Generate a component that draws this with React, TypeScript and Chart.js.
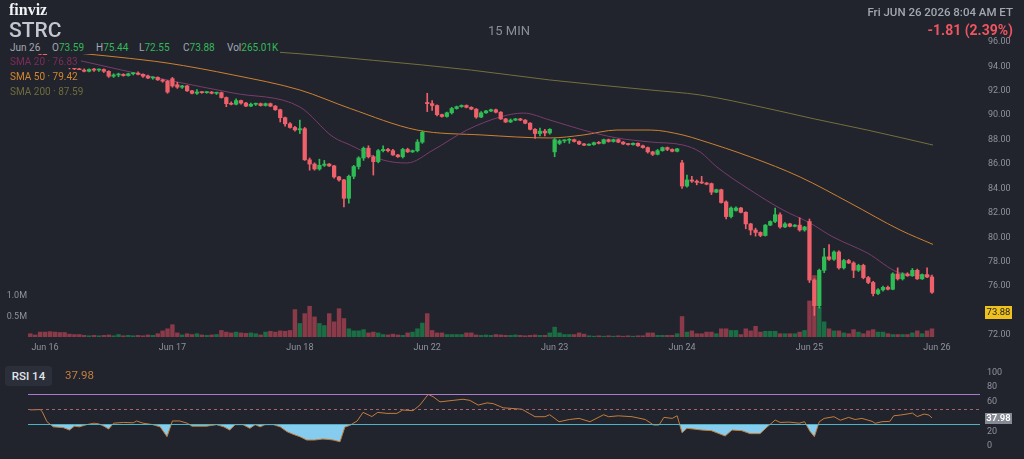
import React, { useEffect, useRef } from "react";
import { Chart, registerables } from "chart.js";

Chart.register(...registerables);

// ---------------- data ----------------
const dayTickIdx = [3, 29, 55, 81, 107, 133, 159, 185];
const dayTickLabels = ["Jun 16", "Jun 17", "Jun 18", "Jun 22", "Jun 23", "Jun 24", "Jun 25", "Jun 26"];
const priceTicks = [72, 76, 78, 80, 82, 84, 86, 88, 90, 92, 94, 96];
const volumeTicks = [0.5, 1.0];
const rsiTicks = [0, 20, 60, 80, 100];
const rsiLevels = [70, 50, 30];
const lastPrice = 73.88;
const lastRsi = 37.98;

const opens = [
  95.5, 95.4, 95.3, 95.0, 94.7, 94.6, 94.3, 94.2, 94.0, 93.9,
  93.8, 93.7, 93.6, 93.75, 93.7, 93.75, 93.6, 93.2, 93.3, 93.35,
  93.25, 93.4, 93.45, 93.35, 93.2, 93.05, 93.1, 92.9, 92.8, 93.0,
  92.5, 92.3, 92.4, 92.0, 91.8, 91.9, 91.85, 91.9, 91.8, 91.85,
  91.45, 90.95, 90.9, 91.2, 91.0, 90.75, 90.9, 90.95, 90.8, 90.95,
  90.75, 90.45, 89.8, 89.3, 89.0, 88.8, 88.9, 86.35, 86.0, 85.6,
  85.9, 86.0, 85.85, 84.95, 84.7, 83.2, 85.0, 85.8, 86.5, 87.3,
  86.6, 86.2, 87.1, 87.2, 87.1, 86.75, 86.6, 87.2, 87.0, 87.1,
  87.8, 91.05, 90.95, 90.8, 90.05, 89.9, 90.2, 90.55, 90.7, 90.8,
  90.65, 90.5, 89.85, 90.2, 90.35, 90.45, 90.25, 89.7, 89.45, 89.6,
  89.7, 89.6, 89.35, 88.85, 88.5, 88.7, 88.55, 87.0, 87.7, 87.9,
  87.95, 88.0, 87.85, 87.65, 87.55, 87.6, 87.75, 87.7, 88.0, 87.85,
  88.0, 87.8, 87.65, 87.6, 87.7, 87.5, 87.35, 87.0, 86.8, 87.1,
  87.35, 87.2, 87.05, 86.1, 84.2, 84.7, 84.6, 84.5, 84.45, 84.4,
  83.7, 83.9, 82.9, 81.7, 82.2, 82.4, 82.05, 81.1, 80.6, 80.4,
  80.15, 81.0, 81.3, 81.85, 80.85, 81.1, 80.9, 81.0, 80.6, 81.3,
  76.5, 74.4, 77.3, 78.4, 78.2, 78.8, 77.5, 78.1, 77.9, 77.3,
  77.7, 76.7, 76.3, 75.4, 75.7, 75.9, 75.75, 77.0, 76.6, 77.0,
  76.85, 77.3, 76.6, 76.95, 76.75,
];
const highs = [
  95.7, 95.6, 95.4, 95.6, 94.9, 94.7, 94.5, 94.4, 94.2, 94.0,
  93.9, 93.8, 93.8, 93.85, 93.8, 93.8, 93.65, 93.4, 93.45, 93.4,
  93.45, 93.5, 93.55, 93.4, 93.3, 93.15, 93.15, 92.95, 92.85, 93.1,
  92.7, 92.45, 92.45, 92.05, 92.1, 91.95, 91.95, 91.95, 91.9, 91.9,
  91.5, 91.1, 91.35, 91.25, 91.05, 91.0, 91.0, 91.0, 91.0, 91.0,
  90.8, 90.5, 89.85, 89.4, 89.1, 89.6, 89.0, 86.5, 86.1, 86.4,
  86.3, 86.05, 85.9, 85.0, 84.75, 85.1, 85.9, 86.6, 87.4, 87.5,
  86.7, 87.2, 87.5, 87.3, 87.2, 86.8, 87.3, 87.3, 87.15, 88.0,
  88.7, 91.8, 91.2, 90.85, 90.1, 90.25, 90.65, 90.75, 90.85, 90.85,
  90.7, 90.55, 90.3, 90.4, 90.5, 90.5, 90.3, 89.75, 89.7, 89.75,
  89.75, 89.65, 89.4, 88.9, 88.95, 88.85, 88.9, 88.1, 88.0, 88.0,
  88.1, 88.05, 87.9, 87.7, 87.65, 87.8, 87.85, 88.05, 88.05, 88.05,
  88.05, 87.85, 87.7, 87.75, 87.75, 87.55, 87.4, 87.05, 87.2, 87.4,
  87.4, 87.25, 87.3, 86.3, 85.1, 85.0, 84.7, 85.0, 84.5, 84.45,
  83.95, 83.95, 83.0, 82.5, 82.5, 82.45, 82.1, 81.15, 80.75, 80.45,
  81.05, 81.35, 82.4, 82.0, 81.2, 81.15, 81.05, 81.6, 80.9, 81.5,
  76.6, 77.4, 79.1, 79.4, 78.9, 78.9, 78.2, 78.2, 78.0, 77.8,
  77.8, 76.8, 76.4, 75.8, 76.0, 76.0, 77.1, 77.5, 77.1, 77.1,
  77.45, 77.4, 77.0, 77.5, 76.9,
];
const lows = [
  95.3, 95.2, 94.9, 94.5, 94.4, 94.2, 94.1, 93.9, 93.8, 93.7,
  93.6, 93.55, 93.55, 93.6, 93.6, 93.5, 93.1, 93.1, 93.15, 93.2,
  93.2, 93.3, 93.3, 93.1, 93.0, 92.95, 92.85, 92.7, 91.8, 92.3,
  92.2, 92.2, 91.95, 91.75, 91.7, 91.8, 91.8, 91.75, 91.7, 91.4,
  90.7, 90.85, 90.85, 90.9, 90.7, 90.7, 90.8, 90.75, 90.75, 90.7,
  90.4, 89.45, 89.1, 88.95, 88.7, 88.5, 86.3, 85.5, 85.5, 85.5,
  85.8, 85.8, 84.85, 84.6, 82.5, 82.8, 84.8, 85.6, 86.3, 86.5,
  85.1, 86.1, 87.0, 87.0, 86.7, 86.55, 86.5, 86.95, 86.95, 87.0,
  87.7, 90.3, 90.4, 89.95, 89.85, 89.85, 90.1, 90.5, 90.65, 90.6,
  90.45, 89.75, 89.8, 90.15, 90.3, 90.2, 89.65, 89.4, 89.4, 89.55,
  89.55, 89.3, 88.8, 88.1, 88.3, 88.3, 88.45, 86.6, 87.6, 87.75,
  87.7, 87.8, 87.6, 87.5, 87.5, 87.55, 87.65, 87.65, 87.8, 87.8,
  87.75, 87.6, 87.55, 87.55, 87.45, 87.3, 86.9, 86.7, 86.75, 87.05,
  87.1, 87.0, 87.0, 84.0, 84.1, 84.5, 84.3, 84.4, 84.3, 83.5,
  83.65, 82.8, 81.5, 81.6, 82.15, 82.0, 80.7, 80.2, 80.1, 80.05,
  80.1, 80.95, 81.2, 80.75, 80.8, 80.85, 80.85, 80.5, 80.5, 76.3,
  73.6, 74.2, 77.1, 78.1, 78.1, 77.4, 77.4, 77.85, 76.7, 77.2,
  76.6, 76.2, 75.2, 75.3, 75.6, 75.7, 75.7, 76.5, 76.5, 76.8,
  76.8, 76.55, 76.55, 76.7, 75.4,
];
const closes = [
  95.4, 95.3, 95.0, 94.7, 94.6, 94.3, 94.2, 94.0, 93.9, 93.8,
  93.7, 93.6, 93.75, 93.7, 93.75, 93.6, 93.2, 93.3, 93.35, 93.25,
  93.4, 93.45, 93.35, 93.2, 93.05, 93.1, 92.9, 92.8, 91.9, 92.4,
  92.3, 92.4, 92.0, 91.8, 91.9, 91.85, 91.9, 91.8, 91.85, 91.45,
  90.95, 90.9, 91.2, 91.0, 90.75, 90.9, 90.95, 90.8, 90.95, 90.75,
  90.45, 89.8, 89.3, 89.0, 88.8, 88.9, 86.35, 86.0, 85.6, 85.9,
  86.0, 85.85, 84.95, 84.7, 83.2, 85.0, 85.8, 86.5, 87.3, 86.6,
  86.2, 87.1, 87.2, 87.1, 86.75, 86.6, 87.2, 87.0, 87.1, 87.8,
  88.6, 90.95, 90.8, 90.05, 89.9, 90.2, 90.55, 90.7, 90.8, 90.65,
  90.5, 89.85, 90.2, 90.35, 90.45, 90.25, 89.7, 89.45, 89.6, 89.7,
  89.6, 89.35, 88.85, 88.5, 88.7, 88.55, 88.85, 88.0, 87.9, 87.95,
  88.0, 87.85, 87.65, 87.55, 87.6, 87.75, 87.7, 88.0, 87.85, 88.0,
  87.8, 87.65, 87.6, 87.7, 87.5, 87.35, 87.0, 86.8, 87.1, 87.35,
  87.2, 87.05, 87.25, 84.2, 84.7, 84.6, 84.5, 84.45, 84.35, 83.7,
  83.9, 82.85, 81.7, 82.4, 82.4, 82.05, 81.1, 80.6, 80.4, 80.15,
  81.0, 81.3, 81.85, 80.85, 81.1, 80.9, 81.0, 80.6, 80.85, 76.5,
  74.4, 77.3, 78.4, 78.2, 78.8, 77.5, 78.1, 77.9, 77.3, 77.7,
  76.7, 76.3, 75.4, 75.7, 75.9, 75.75, 77.0, 76.6, 77.0, 76.85,
  77.3, 76.6, 76.95, 76.75, 75.5,
];
// volume in millions
const volumes = [
  0.08, 0.05, 0.12, 0.12, 0.13, 0.12, 0.11, 0.11, 0.07, 0.06,
  0.06, 0.04, 0.03, 0.04, 0.03, 0.04, 0.05, 0.03, 0.06, 0.03,
  0.04, 0.03, 0.04, 0.03, 0.05, 0.04, 0.08, 0.15, 0.2, 0.3,
  0.1, 0.05, 0.08, 0.06, 0.08, 0.05, 0.04, 0.05, 0.06, 0.16,
  0.12, 0.1, 0.12, 0.1, 0.09, 0.1, 0.08, 0.05, 0.12, 0.14,
  0.12, 0.15, 0.14, 0.16, 0.67, 0.33, 0.57, 0.75, 0.49, 0.33,
  0.28, 0.57, 0.37, 0.69, 0.45, 0.2, 0.15, 0.15, 0.18, 0.1,
  0.12, 0.1, 0.06, 0.05, 0.07, 0.05, 0.04, 0.1, 0.12, 0.2,
  0.34, 0.57, 0.16, 0.1, 0.1, 0.06, 0.06, 0.06, 0.06, 0.1,
  0.1, 0.05, 0.04, 0.05, 0.04, 0.06, 0.05, 0.04, 0.04, 0.05,
  0.04, 0.03, 0.04, 0.05, 0.04, 0.04, 0.1, 0.24, 0.1, 0.06,
  0.06, 0.06, 0.1, 0.07, 0.03, 0.02, 0.03, 0.02, 0.03, 0.02,
  0.03, 0.02, 0.03, 0.02, 0.03, 0.03, 0.1, 0.1, 0.04, 0.04,
  0.04, 0.04, 0.08, 0.5, 0.12, 0.15, 0.08, 0.08, 0.12, 0.12,
  0.08, 0.2, 0.2, 0.16, 0.16, 0.06, 0.2, 0.15, 0.26, 0.12,
  0.14, 0.14, 0.14, 0.08, 0.08, 0.08, 0.08, 0.12, 0.16, 0.88,
  1.5, 0.73, 0.37, 0.2, 0.15, 0.15, 0.1, 0.08, 0.18, 0.12,
  0.08, 0.15, 0.18, 0.12, 0.12, 0.08, 0.06, 0.06, 0.06, 0.06,
  0.1, 0.15, 0.08, 0.15, 0.2,
];

// moving averages, read at sampled bar positions
const sma20Idx = [9.5, 27.9, 41.4, 55, 61.8, 65.3, 72, 76.9, 82.2, 89.1, 95.9, 100.6, 106, 112.8, 119.7, 126.5, 133.2, 136.7, 140.1, 146.9, 153.6, 159.1, 163.8, 170.8, 177.5, 184.2];
const sma20Val = [94.53, 92.89, 91.82, 90.68, 88.22, 87.56, 86.33, 86.09, 87.15, 88.79, 89.86, 90.18, 89.61, 88.79, 88.14, 87.81, 87.56, 86.99, 85.76, 83.88, 82.24, 81.17, 80.03, 78.72, 77.08, 76.83];
const sma50Idx = [9.5, 17.7, 27.9, 41.4, 55, 65.3, 78.9, 92.4, 106, 112.8, 119.7, 126.5, 133.2, 136.7, 147, 157.1, 167.3, 177.5, 184.2];
const sma50Val = [95.1, 94.77, 94.28, 93.3, 92.07, 90.55, 88.79, 88.38, 88.14, 88.38, 88.79, 88.79, 88.38, 87.97, 86.58, 84.94, 82.81, 80.6, 79.42];
const sma200Idx = [0, 20, 40, 50, 70, 90, 106, 126.5, 136.7, 150, 160, 170.8, 184.2];
const sma200Val = [95.6, 95.5, 95.35, 95.18, 94.5, 93.7, 92.89, 92.07, 91.66, 90.6, 89.7, 88.79, 87.56];

// RSI(14), read at sampled bar positions
const rsiIdx = [0, 2, 2.4, 3.4, 4.7, 6.7, 8, 9, 10, 11.5, 13, 14, 15, 16, 17, 19, 21, 21.7, 23, 25, 26.5, 27.9, 29, 30.5, 32, 33, 36, 38, 39.5, 40.7, 41.8, 43.4, 44.8, 45.9, 46.9, 47.9, 49.6, 51, 52.4, 53.6, 55, 56.4, 58, 59.7, 60.8, 61.8, 63.2, 64.2, 65.2, 66.7, 67.9, 69.7, 70.9, 72.8, 74.8, 76, 78.1, 79.5, 81.2, 82.2, 83.6, 86.3, 88.3, 89.7, 91.4, 93.2, 94.5, 96.5, 98.3, 100.3, 101.8, 103, 105, 106, 107.9, 110, 112, 114.2, 117, 118, 120, 122.8, 125.5, 127.2, 128.3, 129.3, 131, 132, 133, 134, 135.4, 137, 139, 141.8, 143.2, 145.2, 146.9, 148.9, 150.4, 152, 153, 154.8, 156.9, 158, 159.1, 160, 161, 162, 164, 165.3, 167, 168.3, 169.7, 171.8, 172.4, 173.8, 175.4, 176.2, 177.5, 178.9, 180, 181, 182.4, 183.4, 184];
const rsiVal = [49, 49.5, 47, 33, 26, 25, 21.7, 27, 26, 29, 31, 30, 27, 23, 31, 32, 31.5, 34, 31, 29, 26, 12.7, 34, 34, 31, 27, 27, 29, 26, 21.7, 29, 29, 24, 29, 26, 29, 29, 26, 19.4, 16, 12.7, 8.1, 8.1, 9.5, 9, 8.1, 5.8, 25.8, 28, 34, 45.7, 40, 45.7, 44.3, 44.3, 48.9, 48, 55.6, 70.1, 67, 60, 62, 63.5, 62, 55.6, 58.6, 57.5, 51.9, 51, 50, 44.3, 39.8, 39.8, 42.5, 33, 36, 37.5, 33, 42.5, 39.8, 41, 39.8, 36, 28.5, 28.5, 38.9, 37.5, 41.1, 18, 24, 23, 21.7, 20.8, 13.6, 21.7, 20.8, 16.8, 16.8, 26, 35.3, 32, 32.5, 31, 33, 20, 12.7, 33, 37.5, 39.8, 35, 38.9, 36, 37.5, 33.5, 30.8, 33, 33.5, 41.1, 42, 43.4, 44.7, 40, 43.4, 42, 37.98];

// ---------------- style ----------------
const BG = "#21242d";
const UP = "#2ebd55";
const DOWN = "#f0606a";
const VOL_UP = "#1b6e44";
const VOL_DOWN = "#8a3a48";
const AXIS_TXT = "#8e929c";
const FONT = 'Roboto, "Noto Sans", sans-serif';

const X_MIN = -0.47;
const X_MAX = 193.8;
const PRICE_MIN = 71.836;
const PRICE_MAX = 96.983;
const VOL_MAX = 7.49;

function App() {
  const priceRef = useRef<HTMLCanvasElement>(null);
  const rsiRef = useRef<HTMLCanvasElement>(null);

  useEffect(() => {
    const idx = closes.map((_, i) => i);
    const isUp = idx.map((i) => closes[i] >= opens[i]);
    const candleColors = isUp.map((u) => (u ? UP : DOWN));
    const volColors = isUp.map((u) => (u ? VOL_UP : VOL_DOWN));

    const lastPricePlugin = {
      id: "lastPrice",
      afterDraw(chart: any) {
        const { ctx, chartArea, scales } = chart;
        const y = scales.y.getPixelForValue(lastPrice);
        ctx.save();
        ctx.fillStyle = "#efc11c";
        ctx.fillRect(chartArea.right + 5, Math.round(y) - 6, 27, 13);
        ctx.fillStyle = "#1d2028";
        ctx.font = `9.5px ${FONT}`;
        ctx.textAlign = "center";
        ctx.textBaseline = "middle";
        ctx.fillText(lastPrice.toFixed(2), chartArea.right + 18.5, Math.round(y) + 0.5);
        ctx.restore();
      },
    };

    const axisFont = { family: FONT, size: 9 };

    const priceChart = new Chart(priceRef.current as HTMLCanvasElement, {
      type: "bar",
      data: {
        datasets: [
          {
            type: "bar",
            label: "body",
            data: idx.map((i) => ({ x: i, y: [opens[i], closes[i]] })) as any,
            backgroundColor: candleColors,
            barThickness: 3.6,
            grouped: false,
            minBarLength: 1,
            yAxisID: "y",
            order: 1,
          } as any,
          {
            type: "bar",
            label: "wick",
            data: idx.map((i) => ({ x: i, y: [lows[i], highs[i]] })) as any,
            backgroundColor: candleColors,
            barThickness: 1,
            grouped: false,
            yAxisID: "y",
            order: 2,
          } as any,
          {
            type: "line",
            label: "SMA 20",
            data: sma20Idx.map((x, k) => ({ x, y: sma20Val[k] })),
            borderColor: "#7a3c6c",
            borderWidth: 1,
            pointRadius: 0,
            cubicInterpolationMode: "monotone",
            yAxisID: "y",
            order: 3,
          } as any,
          {
            type: "line",
            label: "SMA 50",
            data: sma50Idx.map((x, k) => ({ x, y: sma50Val[k] })),
            borderColor: "#cf8030",
            borderWidth: 1,
            pointRadius: 0,
            cubicInterpolationMode: "monotone",
            yAxisID: "y",
            order: 3,
          } as any,
          {
            type: "line",
            label: "SMA 200",
            data: sma200Idx.map((x, k) => ({ x, y: sma200Val[k] })),
            borderColor: "#756f3d",
            borderWidth: 1,
            pointRadius: 0,
            cubicInterpolationMode: "monotone",
            yAxisID: "y",
            order: 3,
          } as any,
          {
            type: "bar",
            label: "volume",
            data: idx.map((i) => ({ x: i, y: volumes[i] })),
            backgroundColor: volColors,
            barThickness: 3.8,
            grouped: false,
            yAxisID: "yVol",
            order: 10,
          } as any,
        ],
      },
      options: {
        animation: false,
        responsive: false,
        maintainAspectRatio: false,
        layout: { padding: { top: 30, left: 0, right: 0, bottom: 0 } },
        plugins: { legend: { display: false }, tooltip: { enabled: false } },
        scales: {
          x: {
            type: "linear",
            min: X_MIN,
            max: X_MAX,
            offset: false,
            grid: { display: false, drawTicks: false, offset: false },
            border: { display: false },
            afterBuildTicks: (s: any) => {
              s.ticks = dayTickIdx.map((v) => ({ value: v }));
            },
            afterFit: (s: any) => {
              s.height = 23;
            },
            ticks: {
              color: AXIS_TXT,
              font: axisFont,
              padding: 5,
              maxRotation: 0,
              autoSkip: false,
              callback: (v: any) => {
                const k = dayTickIdx.indexOf(Number(v));
                return k >= 0 ? dayTickLabels[k] : "";
              },
            },
          },
          y: {
            type: "linear",
            position: "right",
            min: PRICE_MIN,
            max: PRICE_MAX,
            grid: { display: false, drawTicks: false },
            border: { display: false },
            afterBuildTicks: (s: any) => {
              s.ticks = priceTicks.map((v) => ({ value: v }));
            },
            afterFit: (s: any) => {
              s.width = 44;
            },
            ticks: {
              color: AXIS_TXT,
              font: axisFont,
              padding: 8,
              callback: (v: any) => Number(v).toFixed(2),
            },
          },
          yVol: {
            type: "linear",
            position: "left",
            min: 0,
            max: VOL_MAX,
            grid: { display: false, drawTicks: false },
            border: { display: false },
            afterBuildTicks: (s: any) => {
              s.ticks = volumeTicks.map((v) => ({ value: v }));
            },
            afterFit: (s: any) => {
              s.width = 28;
            },
            ticks: {
              color: AXIS_TXT,
              font: axisFont,
              padding: 1,
              callback: (v: any) => Number(v).toFixed(1) + "M",
            },
          },
        },
      } as any,
      plugins: [lastPricePlugin],
    });

    const rsiLevelPlugin = {
      id: "rsiLevels",
      afterDatasetsDraw(chart: any) {
        const { ctx, chartArea, scales } = chart;
        const styles = [
          { c: "#ad78cf", d: [] as number[] },
          { c: "#a3626c", d: [3, 3] },
          { c: "#4cb2c4", d: [] as number[] },
        ];
        rsiLevels.forEach((lv, k) => {
          const y = Math.round(scales.y.getPixelForValue(lv)) + 0.5;
          ctx.save();
          ctx.strokeStyle = styles[k].c;
          ctx.setLineDash(styles[k].d);
          ctx.lineWidth = 1;
          ctx.beginPath();
          ctx.moveTo(chartArea.left, y);
          ctx.lineTo(chartArea.right, y);
          ctx.stroke();
          ctx.restore();
        });
      },
      afterDraw(chart: any) {
        const { ctx, chartArea, scales } = chart;
        const y = Math.round(scales.y.getPixelForValue(lastRsi));
        ctx.save();
        ctx.fillStyle = "#868a94";
        ctx.fillRect(chartArea.right + 5, y - 5, 27, 11);
        ctx.fillStyle = "#ffffff";
        ctx.font = `600 9.5px ${FONT}`;
        ctx.textAlign = "center";
        ctx.textBaseline = "middle";
        ctx.fillText(lastRsi.toFixed(2), chartArea.right + 18.5, y + 0.5);
        ctx.restore();
      },
    };

    const rsiChart = new Chart(rsiRef.current as HTMLCanvasElement, {
      type: "line",
      data: {
        datasets: [
          {
            label: "RSI 14",
            data: rsiIdx.map((x, k) => ({ x, y: rsiVal[k] })),
            borderColor: "#c47d3a",
            borderWidth: 1,
            pointRadius: 0,
            tension: 0,
            fill: { target: { value: 30 }, above: "rgba(0,0,0,0)", below: "#86ccee" },
          } as any,
        ],
      },
      options: {
        animation: false,
        responsive: false,
        maintainAspectRatio: false,
        layout: { padding: { top: 12, bottom: 13, left: 28, right: 0 } },
        plugins: { legend: { display: false }, tooltip: { enabled: false } },
        scales: {
          x: { type: "linear", min: X_MIN, max: X_MAX, display: false, offset: false },
          y: {
            type: "linear",
            position: "right",
            min: 0,
            max: 100,
            grid: { display: false, drawTicks: false },
            border: { display: false },
            afterBuildTicks: (s: any) => {
              s.ticks = rsiTicks.map((v) => ({ value: v }));
            },
            afterFit: (s: any) => {
              s.width = 44;
            },
            ticks: { color: AXIS_TXT, font: axisFont, padding: 7 },
          },
        },
      } as any,
      plugins: [rsiLevelPlugin],
    });

    return () => {
      priceChart.destroy();
      rsiChart.destroy();
    };
  }, []);

  const abs = (s: any): any => ({ position: "absolute", whiteSpace: "nowrap", fontFamily: FONT, ...s });
  const row = (top: number, color: string, text: string) => (
    <div style={abs({ left: 8, top, height: 13, lineHeight: "13px", fontSize: 10, color, background: BG, padding: "0 3px 0 2px", zIndex: 2 })}>{text}</div>
  );
  const green = "#33b85a";
  const lbl = "#a4a8b2";

  return (
    <div style={{ position: "fixed", left: 0, top: 0, width: 1024, height: 459, background: BG, overflow: "hidden" }}>
      <canvas ref={priceRef} width={1024} height={360} style={{ position: "absolute", left: 0, top: 0, width: 1024, height: 360 }} />
      <canvas ref={rsiRef} width={1024} height={99} style={{ position: "absolute", left: 0, top: 360, width: 1024, height: 99 }} />

      <div style={abs({ left: 9, top: 2, fontFamily: '"Liberation Serif", serif', fontWeight: 700, fontSize: 16, color: "#f2f3f5", lineHeight: 1 })}>finviz</div>
      <div style={abs({ left: 9, top: 20, fontSize: 21, fontWeight: 500, color: "#c3c7d0", lineHeight: 1 })}>STRC</div>
      <div style={abs({ left: 488, top: 24, fontSize: 13, color: "#8a8e98", lineHeight: 1 })}>15 MIN</div>
      <div style={abs({ right: 11, top: 7, fontSize: 11.5, fontWeight: 500, color: "#a3a7b0", lineHeight: 1 })}>Fri JUN 26 2026 8:04 AM ET</div>
      <div style={abs({ right: 11, top: 23, fontSize: 14, fontWeight: 700, color: "#ef5560", lineHeight: 1 })}>-1.81 (2.39%)</div>

      <div style={abs({ left: 8, top: 41, width: 272, height: 13, background: BG, zIndex: 2, fontSize: 10, lineHeight: "13px" })}>
        <span style={abs({ left: 2, top: 0, color: lbl })}>Jun 26</span>
        <span style={abs({ left: 44, top: 0, color: lbl })}>O<span style={{ color: green }}>73.59</span></span>
        <span style={abs({ left: 88, top: 0, color: lbl })}>H<span style={{ color: green }}>75.44</span></span>
        <span style={abs({ left: 131, top: 0, color: lbl })}>L<span style={{ color: green }}>72.55</span></span>
        <span style={abs({ left: 175, top: 0, color: lbl })}>C<span style={{ color: green }}>73.88</span></span>
        <span style={abs({ left: 219, top: 0, color: lbl })}>Vol<span style={{ color: green }}>265.01K</span></span>
      </div>
      {row(55, "#7e2c57", "SMA 20 · 76.83")}
      {row(70, "#d3872e", "SMA 50 · 79.42")}
      {row(85, "#6f6c3c", "SMA 200 · 87.59")}

      <div style={abs({ left: 5, top: 366, width: 47, height: 20, background: "#2b2f3a", borderRadius: 3, color: "#e2e5eb", fontSize: 11.5, fontWeight: 500, lineHeight: "20px", textAlign: "center" })}>RSI 14</div>
      <div style={abs({ left: 65, top: 370, fontSize: 11.5, color: "#c47f3c", lineHeight: 1 })}>37.98</div>
    </div>
  );
}

export default App;
